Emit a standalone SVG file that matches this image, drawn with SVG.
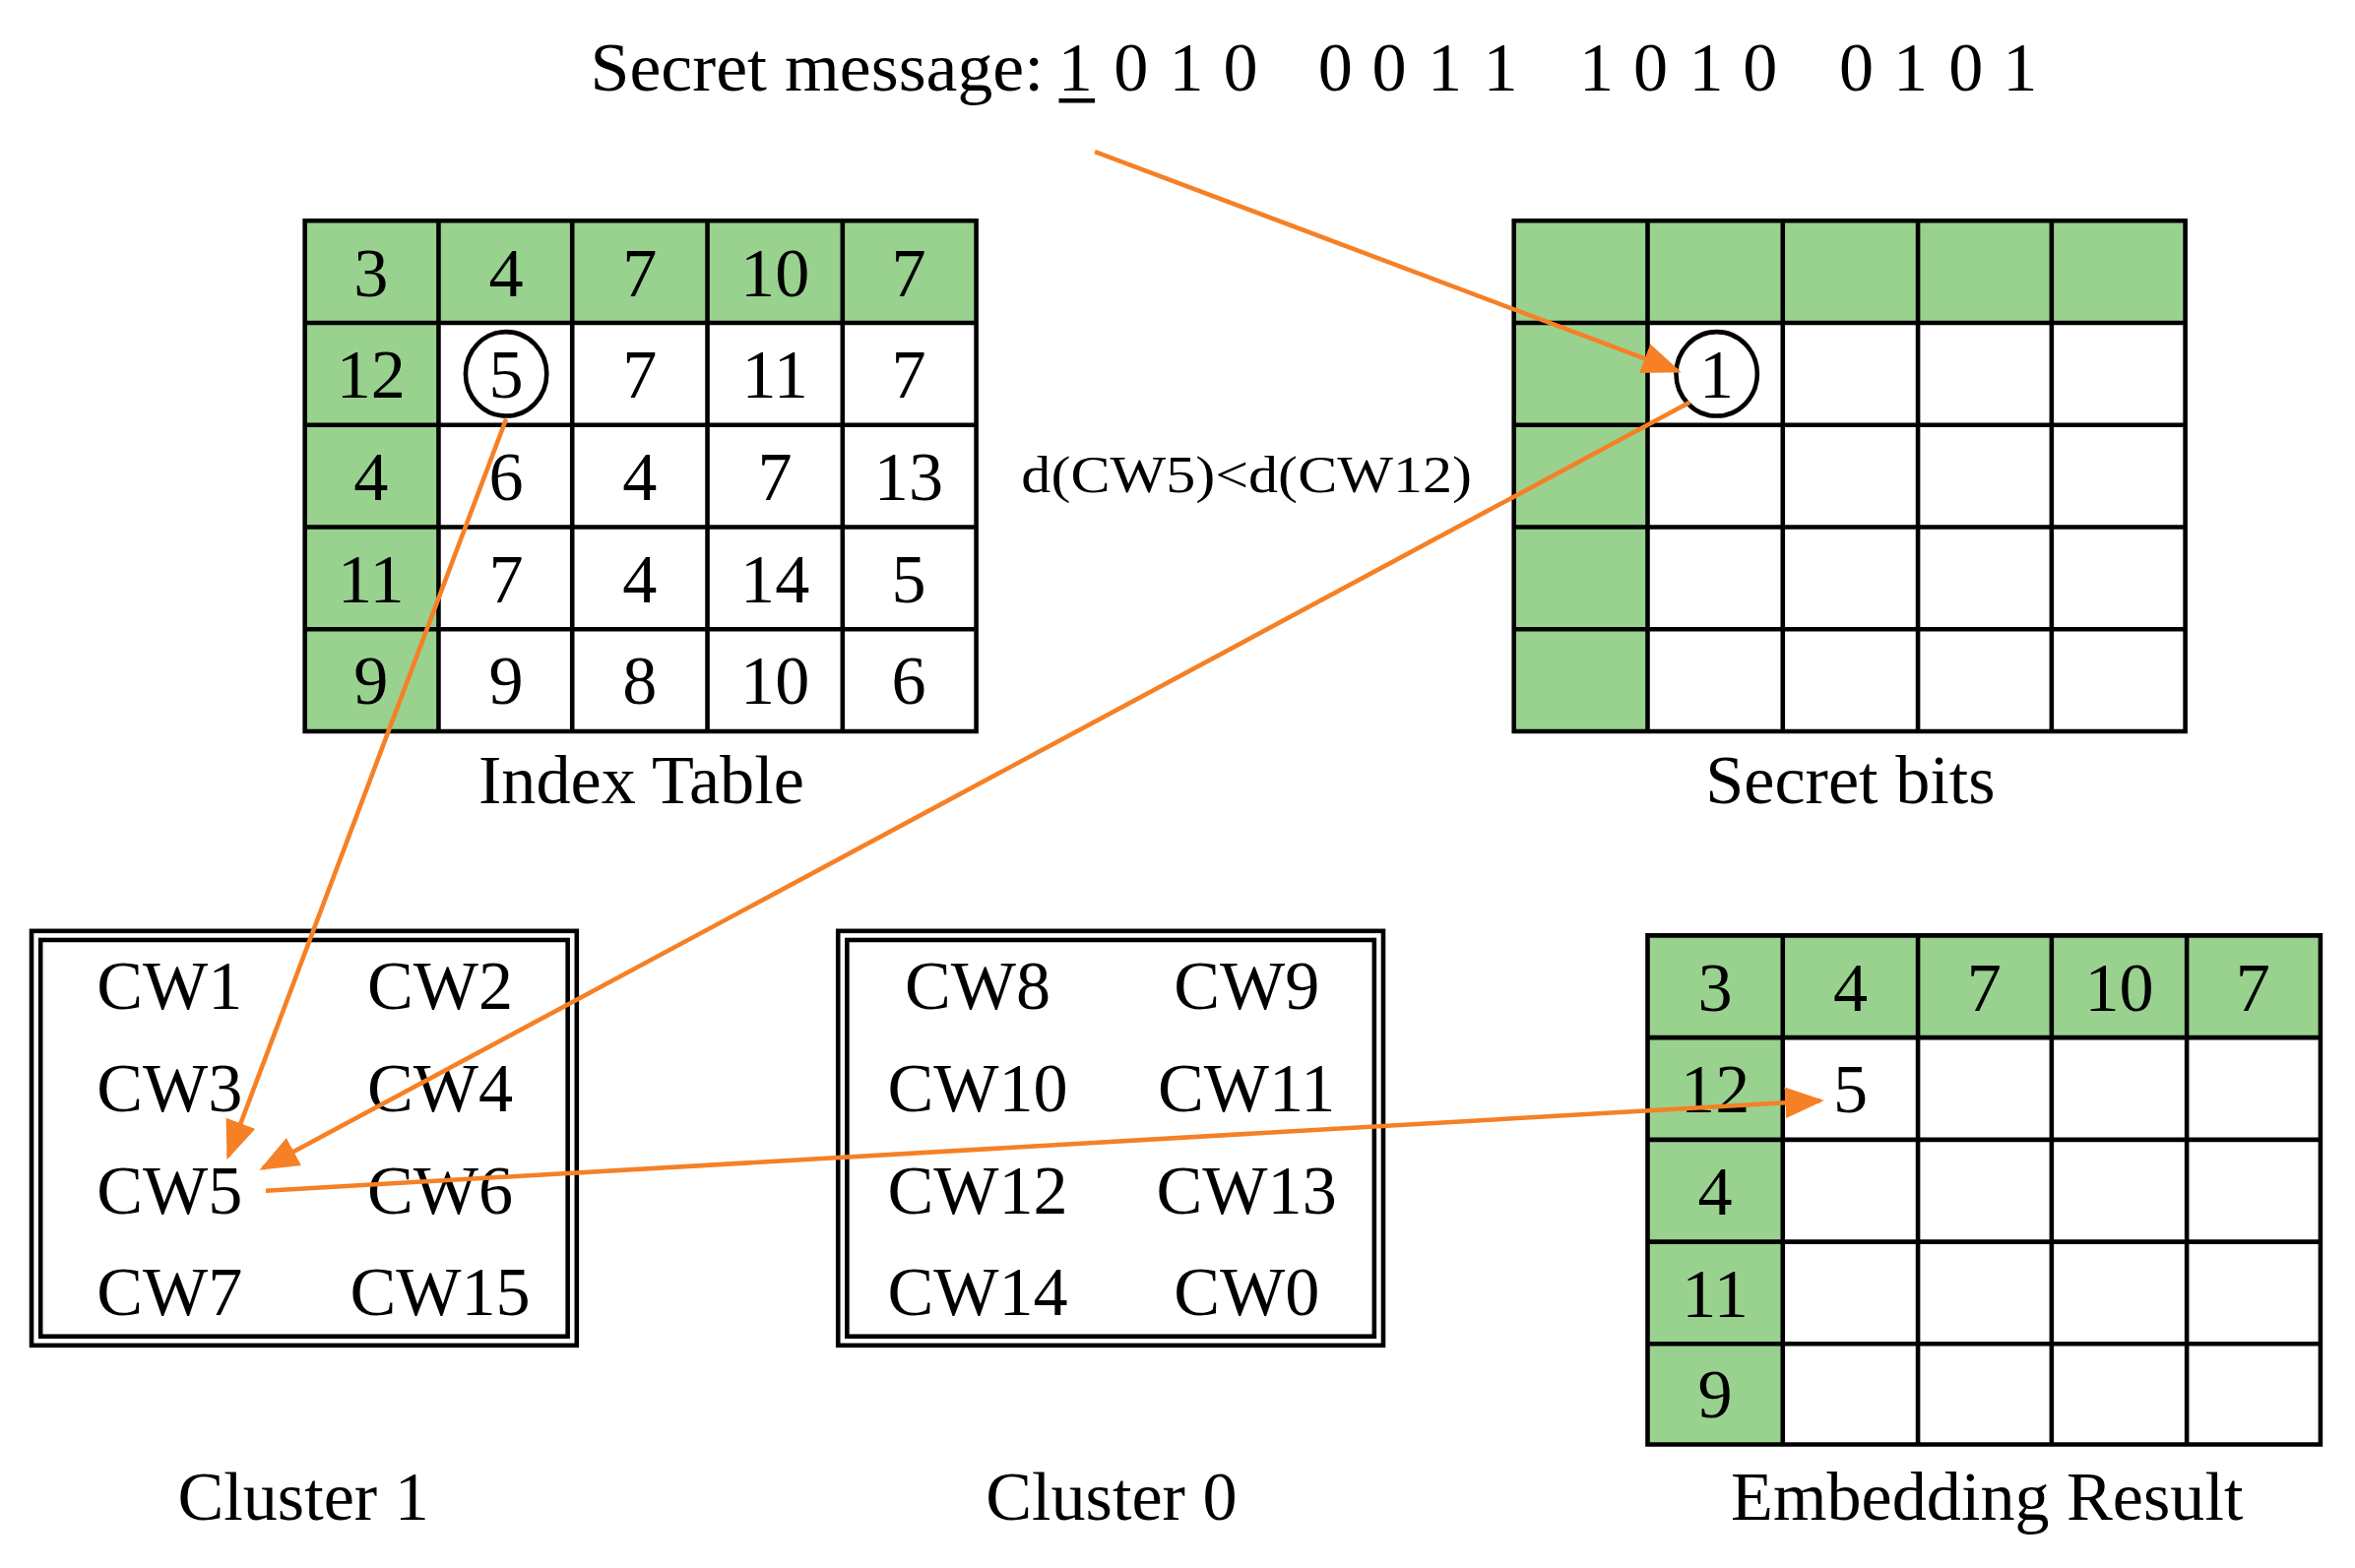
<svg xmlns="http://www.w3.org/2000/svg" width="2392" height="1593" viewBox="0 0 2392 1593">
<style>
text{font-family:"Liberation Serif","Times New Roman",serif;fill:#000}
.n{font-size:46px;text-anchor:middle}
.lb{font-size:46px;text-anchor:middle}
.g{fill:#99D18F}
.grid{stroke:#000;stroke-width:3;fill:none}
.ar{stroke:#F58025;stroke-width:3;fill:none}
</style>
<defs>
<marker id="ah2" viewBox="0 0 10 10" refX="9" refY="5" markerWidth="26" markerHeight="26" markerUnits="userSpaceOnUse" orient="auto"><path d="M0,1L10,5L0,9z" fill="#F58025"/></marker>
</defs>
<rect width="2392" height="1593" fill="#fff"/>
<g transform="scale(1.52551)">
<g id="message">
<text x="393" y="60" font-size="46" textLength="302" lengthAdjust="spacingAndGlyphs">Secret message:</text>
<g class="n">
<text x="716" y="60">1</text><text x="753" y="60">0</text><text x="790" y="60">1</text><text x="826" y="60">0</text>
<text x="889" y="60">0</text><text x="925" y="60">0</text><text x="962" y="60">1</text><text x="999" y="60">1</text>
<text x="1063" y="60">1</text><text x="1099" y="60">0</text><text x="1136" y="60">1</text><text x="1172" y="60">0</text>
<text x="1236" y="60">0</text><text x="1272" y="60">1</text><text x="1309" y="60">0</text><text x="1345" y="60">1</text>
</g>
<line x1="705" y1="67" x2="729" y2="67" stroke="#000" stroke-width="3"/>
</g>
<g id="index-table">
<rect class="g" x="203" y="147" width="447" height="68"/>
<rect class="g" x="203" y="147" width="89" height="340"/>
<path class="grid" d="M203,147H650V487H203Z M292,147V487 M381,147V487 M471,147V487 M561,147V487 M203,215H650 M203,283H650 M203,351H650 M203,419H650"/>
<g class="n">
<text x="247" y="197">3</text><text x="337" y="197">4</text><text x="426" y="197">7</text><text x="516" y="197">10</text><text x="605" y="197">7</text>
<text x="247" y="265">12</text><text x="337" y="265">5</text><text x="426" y="265">7</text><text x="516" y="265">11</text><text x="605" y="265">7</text>
<text x="247" y="333">4</text><text x="337" y="333">6</text><text x="426" y="333">4</text><text x="516" y="333">7</text><text x="605" y="333">13</text>
<text x="247" y="401">11</text><text x="337" y="401">7</text><text x="426" y="401">4</text><text x="516" y="401">14</text><text x="605" y="401">5</text>
<text x="247" y="469">9</text><text x="337" y="469">9</text><text x="426" y="469">8</text><text x="516" y="469">10</text><text x="605" y="469">6</text>
</g>
<ellipse cx="337" cy="249" rx="27" ry="28" fill="none" stroke="#000" stroke-width="3"/>
<text class="lb" x="427" y="535">Index Table</text>
</g>
<g id="secret-bits">
<rect class="g" x="1008" y="147" width="447" height="68"/>
<rect class="g" x="1008" y="147" width="89" height="340"/>
<path class="grid" d="M1008,147H1455V487H1008Z M1097,147V487 M1187,147V487 M1277,147V487 M1366,147V487 M1008,215H1455 M1008,283H1455 M1008,351H1455 M1008,419H1455"/>
<text class="n" x="1143" y="265">1</text>
<ellipse cx="1143" cy="249" rx="27" ry="28" fill="none" stroke="#000" stroke-width="3"/>
<text class="lb" x="1232" y="535">Secret bits</text>
</g>
<g id="condition"><text x="680" y="328" font-size="34" textLength="300" lengthAdjust="spacingAndGlyphs">d(CW5)&lt;d(CW12)</text></g>
<g id="cluster1">
<rect x="21" y="620" width="363" height="276" fill="none" stroke="#000" stroke-width="3"/>
<rect x="27" y="626" width="351" height="264" fill="none" stroke="#000" stroke-width="3"/>
<g class="n"><text x="113" y="672">CW1</text><text x="293" y="672">CW2</text><text x="113" y="740">CW3</text><text x="293" y="740">CW4</text><text x="113" y="808">CW5</text><text x="293" y="808">CW6</text><text x="113" y="876">CW7</text><text x="293" y="876">CW15</text></g>
<text class="lb" x="202" y="1012">Cluster 1</text>
</g>
<g id="cluster0">
<rect x="558" y="620" width="363" height="276" fill="none" stroke="#000" stroke-width="3"/>
<rect x="564" y="626" width="351" height="264" fill="none" stroke="#000" stroke-width="3"/>
<g class="n"><text x="651" y="672">CW8</text><text x="830" y="672">CW9</text><text x="651" y="740">CW10</text><text x="830" y="740">CW11</text><text x="651" y="808">CW12</text><text x="830" y="808">CW13</text><text x="651" y="876">CW14</text><text x="830" y="876">CW0</text></g>
<text class="lb" x="740" y="1012">Cluster 0</text>
</g>
<g id="embedding-result">
<rect class="g" x="1097" y="623" width="448" height="68"/>
<rect class="g" x="1097" y="623" width="90" height="339"/>
<path class="grid" d="M1097,623H1545V962H1097Z M1187,623V962 M1277,623V962 M1366,623V962 M1456,623V962 M1097,691H1545 M1097,759H1545 M1097,827H1545 M1097,895H1545"/>
<g class="n">
<text x="1142" y="673">3</text><text x="1232" y="673">4</text><text x="1321" y="673">7</text><text x="1411" y="673">10</text><text x="1500" y="673">7</text>
<text x="1142" y="741">12</text><text x="1232" y="741">5</text>
<text x="1142" y="809">4</text><text x="1142" y="877">11</text><text x="1142" y="944">9</text>
</g>
<text class="lb" x="1323" y="1012">Embedding Result</text>
</g>
<g id="connectors">
<line class="ar" x1="729" y1="101" x2="1117" y2="247" marker-end="url(#ah2)"/>
<line class="ar" stroke-width="2" x1="337" y1="279" x2="152" y2="770" marker-end="url(#ah2)"/>
<line class="ar" stroke-width="2.5" x1="1125" y1="268" x2="175" y2="778" marker-end="url(#ah2)"/>
<line class="ar" stroke-width="3.5" x1="177" y1="793" x2="1212" y2="733" marker-end="url(#ah2)"/>
</g>
</g>
</svg>
